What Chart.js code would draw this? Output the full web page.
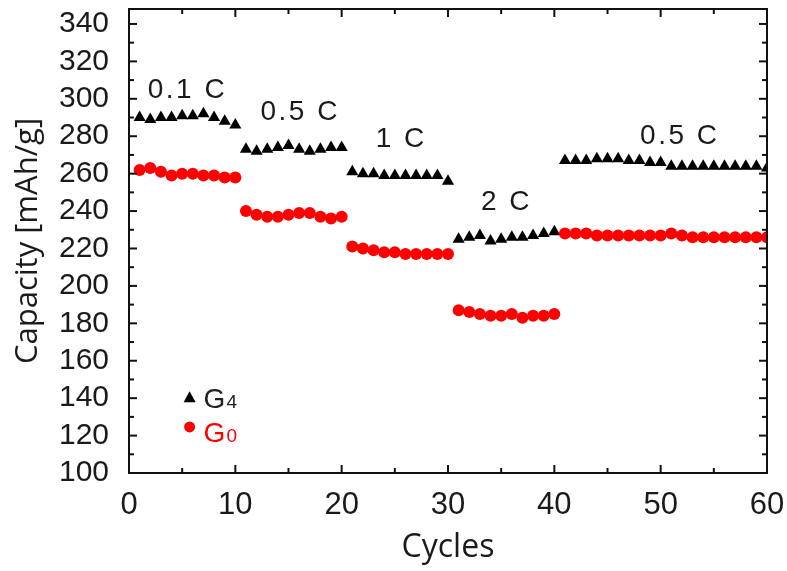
<!DOCTYPE html>
<html>
<head>
<meta charset="utf-8">
<script src="https://cdn.jsdelivr.net/npm/chart.js@4.4.1/dist/chart.umd.min.js"></script>
<style>
  html, body { margin: 0; padding: 0; background: #fff; }
  #wrap { width: 787px; height: 571px; }
</style>
</head>
<body>
<div id="wrap"><canvas id="rateChart" width="787" height="571"></canvas></div>
<script>
// Zyklen 1..60
const cycles = Array.from({ length: 60 }, (_, i) => i + 1);

// G4 (schwarze Dreiecke)
const g4_01C = [290, 289, 290, 290, 291, 291, 292, 290, 288, 286];
const g4_05C = [273, 272, 273, 274, 275, 273, 272, 273, 274, 274];
const g4_1C = [261, 260, 260, 259, 259, 259, 259, 259, 259, 256];
const g4_2C = [225, 226, 227, 224, 225, 226, 226, 227, 228, 229];
const g4_05C_back = [267, 267, 267, 268, 268, 268, 267, 267, 266, 266, 264, 264, 264, 264, 264, 264, 264, 264, 264, 263];

// G0 (rote Punkte)
const g0_01C = [262, 263, 261, 259, 260, 260, 259, 259, 258, 258];
const g0_05C = [240, 238, 237, 237, 238, 239, 239, 237, 236, 237];
const g0_1C = [221, 220, 219, 218, 218, 217, 217, 217, 217, 217];
const g0_2C = [187, 186, 185, 184, 184, 185, 183, 184, 184, 185];
const g0_05C_back = [228, 228, 228, 227, 227, 227, 227, 227, 227, 227, 228, 227, 226, 226, 226, 226, 226, 226, 226, 226];

const g4_values = [...g4_01C, ...g4_05C, ...g4_1C, ...g4_2C, ...g4_05C_back];
const g0_values = [...g0_01C, ...g0_05C, ...g0_1C, ...g0_2C, ...g0_05C_back];

// Achsen
const xTicks = [0, 10, 20, 30, 40, 50, 60];
const xMinorTicks = [5, 15, 25, 35, 45, 55];
const yTicks = [100, 120, 140, 160, 180, 200, 220, 240, 260, 280, 300, 320, 340];
const yMinorTicks = [110, 130, 150, 170, 190, 210, 230, 250, 270, 290, 310, 330];

// Beschriftungen der C-Raten (Text, x, y in Datenkoordinaten)
const rateLabels = ["0.1 C", "0.5 C", "1 C", "2 C", "0.5 C"];
const rateLabelX = [5.5, 16.1, 25.6, 35.5, 51.8];
const rateLabelY = [304.5, 293, 278.5, 244.5, 280];

const tickFont = "'Liberation Sans', Arial, sans-serif";
const titleFont = "'Open Sans', 'Noto Sans', sans-serif";
const textColor = '#1a1a1a';

const toPoints = values => values.map((v, i) => ({ x: cycles[i], y: v }));

// Rahmen mit nach innen zeigenden Ticks + Legende + Raten-Beschriftung
const decorPlugin = {
    id: 'decor',
    afterDatasetsDraw(chart) {
        const ctx = chart.ctx;
        const area = chart.chartArea;
        const xs = chart.scales.x;
        const ys = chart.scales.y;

        ctx.save();
        ctx.strokeStyle = '#111';
        ctx.lineWidth = 2;

        const tick = (x1, y1, x2, y2) => {
            ctx.beginPath();
            ctx.moveTo(x1, y1);
            ctx.lineTo(x2, y2);
            ctx.stroke();
        };

        xTicks.forEach(v => {
            const px = xs.getPixelForValue(v);
            tick(px, area.bottom, px, area.bottom - 8);
            tick(px, area.top, px, area.top + 8);
        });
        xMinorTicks.forEach(v => {
            const px = xs.getPixelForValue(v);
            tick(px, area.bottom, px, area.bottom - 5);
            tick(px, area.top, px, area.top + 5);
        });
        yTicks.forEach(v => {
            const py = ys.getPixelForValue(v);
            tick(area.left, py, area.left + 8, py);
            tick(area.right, py, area.right - 8, py);
        });
        yMinorTicks.forEach(v => {
            const py = ys.getPixelForValue(v);
            tick(area.left, py, area.left + 5, py);
            tick(area.right, py, area.right - 5, py);
        });

        ctx.strokeRect(area.left, area.top, area.right - area.left, area.bottom - area.top);

        // C-Raten
        ctx.fillStyle = '#1a1a1a';
        ctx.font = "28px " + tickFont;
        ctx.textAlign = 'center';
        ctx.textBaseline = 'middle';
        if ('letterSpacing' in ctx) ctx.letterSpacing = '2.5px';
        rateLabels.forEach((txt, i) => {
            ctx.fillText(txt, xs.getPixelForValue(rateLabelX[i]), ys.getPixelForValue(rateLabelY[i]));
        });
        if ('letterSpacing' in ctx) ctx.letterSpacing = '0px';

        // Legende
        const lx = xs.getPixelForValue(5.7);
        const ly4 = ys.getPixelForValue(140.2);
        const ly0 = ys.getPixelForValue(124.6);

        ctx.fillStyle = '#000';
        ctx.beginPath();
        ctx.moveTo(lx, ly4 - 6.5);
        ctx.lineTo(lx + 6, ly4 + 4.5);
        ctx.lineTo(lx - 6, ly4 + 4.5);
        ctx.closePath();
        ctx.fill();

        ctx.fillStyle = '#ff0000';
        ctx.beginPath();
        ctx.arc(lx, ly0, 5.5, 0, Math.PI * 2);
        ctx.fill();

        ctx.textAlign = 'left';
        ctx.textBaseline = 'alphabetic';
        const drawSub = (base, sub, color, baseline) => {
            ctx.fillStyle = color;
            ctx.font = "28px " + tickFont;
            ctx.fillText(base, lx + 14, baseline);
            const w = ctx.measureText(base).width;
            ctx.font = "19px " + tickFont;
            ctx.fillText(sub, lx + 14 + w + 1, baseline);
        };
        drawSub('G', '4', '#222', ly4 + 10);
        drawSub('G', '0', '#ff0000', ly0 + 15);

        ctx.restore();
    }
};

function buildConfig() {
    return {
        type: 'scatter',
        data: {
            datasets: [
                {
                    label: 'G0',
                    data: toPoints(g0_values),
                    pointStyle: 'circle',
                    pointRadius: 6,
                    pointHoverRadius: 6,
                    backgroundColor: '#ff0000',
                    borderColor: '#ff0000',
                    borderWidth: 0,
                    showLine: false
                },
                {
                    label: 'G4',
                    data: toPoints(g4_values),
                    pointStyle: 'triangle',
                    pointRadius: 7,
                    pointHoverRadius: 7,
                    backgroundColor: '#000',
                    borderColor: '#000',
                    borderWidth: 0,
                    showLine: false
                }
            ]
        },
        options: {
            responsive: false,
            animation: false,
            events: [],
            layout: { padding: { top: 9, right: 20, left: 0, bottom: 0 } },
            plugins: {
                legend: { display: false },
                tooltip: { enabled: false }
            },
            scales: {
                x: {
                    type: 'linear',
                    min: 0,
                    max: 60,
                    grid: { display: false },
                    border: { display: false },
                    afterBuildTicks: scale => { scale.ticks = xTicks.map(v => ({ value: v })); },
                    afterFit: scale => {
                        scale.height = 98;
                        scale.paddingLeft = 0;
                        scale.paddingRight = 0;
                    },
                    ticks: {
                        padding: 6,
                        autoSkip: false,
                        color: textColor,
                        font: { family: tickFont, size: 31 },
                        maxRotation: 0
                    },
                    title: {
                        display: true,
                        text: 'Cycles',
                        color: textColor,
                        font: { family: titleFont, size: 32 },
                        padding: { top: 0, bottom: 4 }
                    }
                },
                y: {
                    type: 'linear',
                    min: 100,
                    max: 348,
                    grid: { display: false },
                    border: { display: false },
                    afterBuildTicks: scale => { scale.ticks = yTicks.map(v => ({ value: v })); },
                    afterFit: scale => {
                        scale.width = 129;
                        scale.paddingTop = 0;
                        scale.paddingBottom = 0;
                    },
                    ticks: {
                        padding: 12,
                        autoSkip: false,
                        color: textColor,
                        font: { family: tickFont, size: 30 }
                    },
                    title: {
                        display: true,
                        text: 'Capacity [mAh/g]',
                        color: textColor,
                        font: { family: titleFont, size: 31 },
                        padding: { top: 10, bottom: 0 }
                    }
                }
            }
        },
        plugins: [decorPlugin]
    };
}

new Chart(document.querySelector('#rateChart'), buildConfig());
</script>
</body>
</html>
